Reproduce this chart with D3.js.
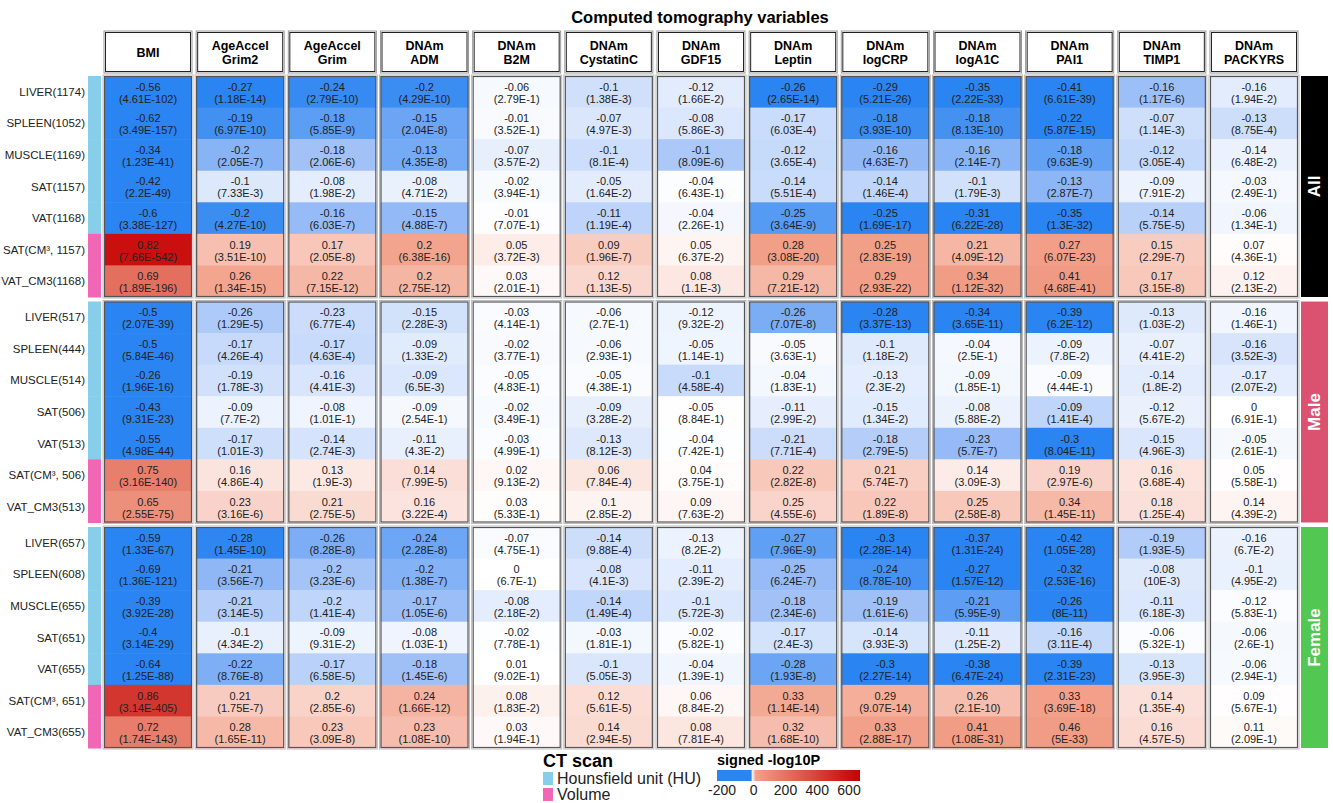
<!DOCTYPE html>
<html>
<head>
<meta charset="utf-8">
<script src="https://cdn.jsdelivr.net/npm/d3@7"></script>
<style>
  body { margin: 0; background: #fff; }
  svg { display: block; font-family: "Liberation Sans", Arial, sans-serif; }
</style>
</head>
<body>
<div id="chart"></div>
<script>
// column headers (two lines split on \n)
const columns = ["BMI", "AgeAccel\nGrim2", "AgeAccel\nGrim", "DNAm\nADM", "DNAm\nB2M", "DNAm\nCystatinC",
  "DNAm\nGDF15", "DNAm\nLeptin", "DNAm\nlogCRP", "DNAm\nlogA1C", "DNAm\nPAI1", "DNAm\nTIMP1", "DNAm\nPACKYRS"];

const sections = ["All", "Male", "Female"];
const sectionColors = ["#000000", "#DA5270", "#52C752"];

const scanType = ["HU", "HU", "HU", "HU", "HU", "Volume", "Volume"];
const scanColors = { HU: "#87CEEB", Volume: "#F266B6" };

const rowsAll = ["LIVER(1174)", "SPLEEN(1052)", "MUSCLE(1169)", "SAT(1157)", "VAT(1168)", "SAT(CM³, 1157)", "VAT_CM3(1168)"];
const rowsMale = ["LIVER(517)", "SPLEEN(444)", "MUSCLE(514)", "SAT(506)", "VAT(513)", "SAT(CM³, 506)", "VAT_CM3(513)"];
const rowsFemale = ["LIVER(657)", "SPLEEN(608)", "MUSCLE(655)", "SAT(651)", "VAT(655)", "SAT(CM³, 651)", "VAT_CM3(655)"];

const corrAll = [
  [-0.56, -0.27, -0.24, -0.2, -0.06, -0.1, -0.12, -0.26, -0.29, -0.35, -0.41, -0.16, -0.16],
  [-0.62, -0.19, -0.18, -0.15, -0.01, -0.07, -0.08, -0.17, -0.18, -0.18, -0.22, -0.07, -0.13],
  [-0.34, -0.2, -0.18, -0.13, -0.07, -0.1, -0.1, -0.12, -0.16, -0.16, -0.18, -0.12, -0.14],
  [-0.42, -0.1, -0.08, -0.08, -0.02, -0.05, -0.04, -0.14, -0.14, -0.1, -0.13, -0.09, -0.03],
  [-0.6, -0.2, -0.16, -0.15, -0.01, -0.11, -0.04, -0.25, -0.25, -0.31, -0.35, -0.14, -0.06],
  [0.82, 0.19, 0.17, 0.2, 0.05, 0.09, 0.05, 0.28, 0.25, 0.21, 0.27, 0.15, 0.07],
  [0.69, 0.26, 0.22, 0.2, 0.03, 0.12, 0.08, 0.29, 0.29, 0.34, 0.41, 0.17, 0.12]
];
const pAll = [
  ["4.61E-102", "1.18E-14", "2.79E-10", "4.29E-10", "2.79E-1", "1.38E-3", "1.66E-2", "2.65E-14", "5.21E-26", "2.22E-33", "6.61E-39", "1.17E-6", "1.94E-2"],
  ["3.49E-157", "6.97E-10", "5.85E-9", "2.04E-8", "3.52E-1", "4.97E-3", "5.86E-3", "6.03E-4", "3.93E-10", "8.13E-10", "5.87E-15", "1.14E-3", "8.75E-4"],
  ["1.23E-41", "2.05E-7", "2.06E-6", "4.35E-8", "3.57E-2", "8.1E-4", "8.09E-6", "3.65E-4", "4.63E-7", "2.14E-7", "9.63E-9", "3.05E-4", "6.48E-2"],
  ["2.2E-49", "7.33E-3", "1.98E-2", "4.71E-2", "3.94E-1", "1.64E-2", "6.43E-1", "5.51E-4", "1.46E-4", "1.79E-3", "2.87E-7", "7.91E-2", "2.49E-1"],
  ["3.38E-127", "4.27E-10", "6.03E-7", "4.88E-7", "7.07E-1", "1.19E-4", "2.26E-1", "3.64E-9", "1.69E-17", "6.22E-28", "1.3E-32", "5.75E-5", "1.34E-1"],
  ["7.66E-542", "3.51E-10", "2.05E-8", "6.38E-16", "3.72E-3", "1.96E-7", "6.37E-2", "3.08E-20", "2.83E-19", "4.09E-12", "6.07E-23", "2.29E-7", "4.36E-1"],
  ["1.89E-196", "1.34E-15", "7.15E-12", "2.75E-12", "2.01E-1", "1.13E-5", "1.1E-3", "7.21E-12", "2.93E-22", "1.12E-32", "4.68E-41", "3.15E-8", "2.13E-2"]
];

const corrMale = [
  [-0.5, -0.26, -0.23, -0.15, -0.03, -0.06, -0.12, -0.26, -0.28, -0.34, -0.39, -0.13, -0.16],
  [-0.5, -0.17, -0.17, -0.09, -0.02, -0.06, -0.05, -0.05, -0.1, -0.04, -0.09, -0.07, -0.16],
  [-0.26, -0.19, -0.16, -0.09, -0.05, -0.05, -0.1, -0.04, -0.13, -0.09, -0.09, -0.14, -0.17],
  [-0.43, -0.09, -0.08, -0.09, -0.02, -0.09, -0.05, -0.11, -0.15, -0.08, -0.09, -0.12, 0],
  [-0.55, -0.17, -0.14, -0.11, -0.03, -0.13, -0.04, -0.21, -0.18, -0.23, -0.3, -0.15, -0.05],
  [0.75, 0.16, 0.13, 0.14, 0.02, 0.06, 0.04, 0.22, 0.21, 0.14, 0.19, 0.16, 0.05],
  [0.65, 0.23, 0.21, 0.16, 0.03, 0.1, 0.09, 0.25, 0.22, 0.25, 0.34, 0.18, 0.14]
];
const pMale = [
  ["2.07E-39", "1.29E-5", "6.77E-4", "2.28E-3", "4.14E-1", "2.7E-1", "9.32E-2", "7.07E-8", "3.37E-13", "3.65E-11", "6.2E-12", "1.03E-2", "1.46E-1"],
  ["5.84E-46", "4.26E-4", "4.63E-4", "1.33E-2", "3.77E-1", "2.93E-1", "1.14E-1", "3.63E-1", "1.18E-2", "2.5E-1", "7.8E-2", "4.41E-2", "3.52E-3"],
  ["1.96E-16", "1.78E-3", "4.41E-3", "6.5E-3", "4.83E-1", "4.38E-1", "4.58E-4", "1.83E-1", "2.3E-2", "1.85E-1", "4.44E-1", "1.8E-2", "2.07E-2"],
  ["9.31E-23", "7.7E-2", "1.01E-1", "2.54E-1", "3.49E-1", "3.28E-2", "8.84E-1", "2.99E-2", "1.34E-2", "5.88E-2", "1.41E-4", "5.67E-2", "6.91E-1"],
  ["4.98E-44", "1.01E-3", "2.74E-3", "4.3E-2", "4.99E-1", "8.12E-3", "7.42E-1", "7.71E-4", "2.79E-5", "5.7E-7", "8.04E-11", "4.96E-3", "2.61E-1"],
  ["3.16E-140", "4.86E-4", "1.9E-3", "7.99E-5", "9.13E-2", "7.84E-4", "3.75E-1", "2.82E-8", "5.74E-7", "3.09E-3", "2.97E-6", "3.68E-4", "5.58E-1"],
  ["2.55E-75", "3.16E-6", "2.75E-5", "3.22E-4", "5.33E-1", "2.85E-2", "7.63E-2", "4.55E-6", "1.89E-8", "2.58E-8", "1.45E-11", "1.25E-4", "4.39E-2"]
];

const corrFemale = [
  [-0.59, -0.28, -0.26, -0.24, -0.07, -0.14, -0.13, -0.27, -0.3, -0.37, -0.42, -0.19, -0.16],
  [-0.69, -0.21, -0.2, -0.2, 0, -0.08, -0.11, -0.25, -0.24, -0.27, -0.32, -0.08, -0.1],
  [-0.39, -0.21, -0.2, -0.17, -0.08, -0.14, -0.1, -0.18, -0.19, -0.21, -0.26, -0.11, -0.12],
  [-0.4, -0.1, -0.09, -0.08, -0.02, -0.03, -0.02, -0.17, -0.14, -0.11, -0.16, -0.06, -0.06],
  [-0.64, -0.22, -0.17, -0.18, 0.01, -0.1, -0.04, -0.28, -0.3, -0.38, -0.39, -0.13, -0.06],
  [0.86, 0.21, 0.2, 0.24, 0.08, 0.12, 0.06, 0.33, 0.29, 0.26, 0.33, 0.14, 0.09],
  [0.72, 0.28, 0.23, 0.23, 0.03, 0.14, 0.08, 0.32, 0.33, 0.41, 0.46, 0.16, 0.11]
];
const pFemale = [
  ["1.33E-67", "1.45E-10", "8.28E-8", "2.28E-8", "4.75E-1", "9.88E-4", "8.2E-2", "7.96E-9", "2.28E-14", "1.31E-24", "1.05E-28", "1.93E-5", "6.7E-2"],
  ["1.36E-121", "3.56E-7", "3.23E-6", "1.38E-7", "6.7E-1", "4.1E-3", "2.39E-2", "6.24E-7", "8.78E-10", "1.57E-12", "2.53E-16", "10E-3", "4.95E-2"],
  ["3.92E-28", "3.14E-5", "1.41E-4", "1.05E-6", "2.18E-2", "1.49E-4", "5.72E-3", "2.34E-6", "1.61E-6", "5.95E-9", "8E-11", "6.18E-3", "5.83E-1"],
  ["3.14E-29", "4.34E-2", "9.31E-2", "1.03E-1", "7.78E-1", "1.81E-1", "5.82E-1", "2.4E-3", "3.93E-3", "1.25E-2", "3.11E-4", "5.32E-1", "2.6E-1"],
  ["1.25E-88", "8.76E-8", "6.58E-5", "1.45E-6", "9.02E-1", "5.05E-3", "1.39E-1", "1.93E-8", "2.27E-14", "6.47E-24", "2.31E-23", "3.95E-3", "2.94E-1"],
  ["3.14E-405", "1.75E-7", "2.85E-6", "1.66E-12", "1.83E-2", "5.61E-5", "8.84E-2", "1.14E-14", "9.07E-14", "2.1E-10", "3.69E-18", "1.35E-4", "5.67E-1"],
  ["1.74E-143", "1.65E-11", "3.09E-8", "1.08E-10", "1.94E-1", "2.94E-5", "7.81E-4", "1.68E-10", "2.88E-17", "1.08E-31", "5E-33", "4.57E-5", "2.09E-1"]
];

const legendTicks = [-200, 0, 200, 400, 600];

const rowLabels = [rowsAll, rowsMale, rowsFemale];
const corrs = [corrAll, corrMale, corrFemale];
const pvals = [pAll, pMale, pFemale];

// signed -log10P ; "7.66E-542" underflows in JS so read the exponent directly
function negLog10(s) {
  const [m, e] = s.split("E");
  return -(Math.log10(+m) + (+e));
}

const width = 1333, height = 803;
const svg = d3.select("#chart").append("svg")
  .attr("width", width).attr("height", height)
  .style("background", "white");

const x = d3.scaleBand().domain(d3.range(columns.length)).range([104, 1298]).paddingInner(0.045);
const ySec = d3.scaleBand().domain(d3.range(sections.length)).range([76, 748]).paddingInner(0.02);
const yRow = d3.scaleBand().domain(d3.range(7)).range([0, ySec.bandwidth()]);

const color = d3.scaleLinear()
  .domain([-10, -6, 0, 6, 16, 600])
  .range(["#2A84F1", "#9CBEF7", "#FFFFFF", "#F9CFC4", "#F2A089", "#C40000"])
  .clamp(true);

// title
svg.append("text")
  .attr("x", 700).attr("y", 23)
  .attr("text-anchor", "middle")
  .style("font-weight", "bold").style("font-size", "16.5px")
  .text("Computed tomography variables");

// header boxes
const head = svg.append("g").selectAll("g")
  .data(columns).join("g")
  .attr("transform", (d, i) => `translate(${x(i)},31)`);
head.append("rect")
  .attr("width", x.bandwidth()).attr("height", 42)
  .attr("fill", "white").attr("stroke", "#999").attr("stroke-width", 1);
head.append("rect")
  .attr("x", 1.5).attr("y", 1.5)
  .attr("width", x.bandwidth() - 3).attr("height", 39)
  .attr("fill", "none").attr("stroke", "#222").attr("stroke-width", 1);
head.append("text")
  .attr("text-anchor", "middle")
  .style("font-weight", "bold").style("font-size", "12.5px")
  .selectAll("tspan")
  .data(d => d.split("\n").map((t, k, arr) => ({ t, k, n: arr.length })))
  .join("tspan")
  .attr("x", x.bandwidth() / 2)
  .attr("y", d => 21 + 4.5 + (d.k - (d.n - 1) / 2) * 14)
  .text(d => d.t);

sections.forEach((sec, s) => {
  const g = svg.append("g").attr("transform", `translate(0,${ySec(s)})`);

  // row labels
  g.append("g").selectAll("text")
    .data(rowLabels[s]).join("text")
    .attr("x", 85)
    .attr("y", (d, r) => yRow(r) + yRow.bandwidth() / 2)
    .attr("dy", "0.35em")
    .attr("text-anchor", "end")
    .style("font-size", "11.5px").style("fill", "#222")
    .text(d => d);

  // CT scan annotation strip
  g.append("g").selectAll("rect")
    .data(scanType).join("rect")
    .attr("x", 88).attr("width", 13)
    .attr("y", (d, r) => yRow(r))
    .attr("height", yRow.bandwidth() + 0.5)
    .attr("fill", d => scanColors[d]);

  // cells
  const cells = [];
  corrs[s].forEach((row, r) => row.forEach((v, c) => {
    const lp = negLog10(pvals[s][r][c]);
    cells.push({ r, c, v, p: pvals[s][r][c], val: v === 0 ? 0 : Math.sign(v) * lp });
  }));

  g.append("g").selectAll("rect")
    .data(cells).join("rect")
    .attr("x", d => x(d.c))
    .attr("y", d => yRow(d.r))
    .attr("width", x.bandwidth())
    .attr("height", yRow.bandwidth() + 0.5)
    .attr("fill", d => color(d.val));

  const txt = g.append("g").selectAll("text")
    .data(cells).join("text")
    .attr("text-anchor", "middle")
    .style("font-size", "11px").style("fill", "#222");
  txt.append("tspan")
    .attr("x", d => x(d.c) + x.bandwidth() / 2)
    .attr("y", d => yRow(d.r) + yRow.bandwidth() / 2 - 1)
    .text(d => d.v);
  txt.append("tspan")
    .attr("x", d => x(d.c) + x.bandwidth() / 2)
    .attr("y", d => yRow(d.r) + yRow.bandwidth() / 2 + 11)
    .text(d => `(${d.p})`);

  // block borders per column
  g.append("g").selectAll("rect")
    .data(columns).join("rect")
    .attr("x", (d, i) => x(i) + 0.5).attr("y", 0.5)
    .attr("width", x.bandwidth() - 1).attr("height", ySec.bandwidth() - 1)
    .attr("fill", "none").attr("stroke", "#555").attr("stroke-width", 1.2);
  g.append("g").selectAll("rect")
    .data(columns).join("rect")
    .attr("x", (d, i) => x(i) - 1).attr("y", -1)
    .attr("width", x.bandwidth() + 2).attr("height", ySec.bandwidth() + 2)
    .attr("fill", "none").attr("stroke", "#bbb").attr("stroke-width", 1);

  // section label strip on the right
  g.append("rect")
    .attr("x", 1301).attr("y", 0)
    .attr("width", 27).attr("height", ySec.bandwidth())
    .attr("fill", sectionColors[s]);
  g.append("text")
    .attr("transform", `translate(1320,${ySec.bandwidth() / 2}) rotate(-90)`)
    .attr("text-anchor", "middle")
    .style("font-weight", "bold").style("font-size", "17px").style("fill", "white")
    .text(sec);
});

// legend: CT scan
const leg = svg.append("g");
leg.append("text").attr("x", 543).attr("y", 767)
  .style("font-weight", "bold").style("font-size", "18px")
  .text("CT scan");
const legItems = [["HU", "Hounsfield unit (HU)"], ["Volume", "Volume"]];
leg.selectAll("rect.sw").data(legItems).join("rect")
  .attr("class", "sw")
  .attr("x", 543).attr("y", (d, i) => 772 + i * 16)
  .attr("width", 10).attr("height", 13)
  .attr("fill", d => scanColors[d[0]]);
leg.selectAll("text.lb").data(legItems).join("text")
  .attr("class", "lb")
  .attr("x", 557).attr("y", (d, i) => 784 + i * 16)
  .style("font-size", "16px").style("fill", "#222")
  .text(d => d[1]);

// legend: colour bar
const lx = d3.scaleLinear().domain([-200, 600]).range([717, 860]);
const tx = d3.scaleLinear().domain([-200, 600]).range([722, 849]);
const grad = svg.append("defs").append("linearGradient").attr("id", "cbar");
const stops = d3.range(-200, 601, 4);
grad.selectAll("stop").data(stops).join("stop")
  .attr("offset", d => (d + 200) / 800)
  .attr("stop-color", d => color(d));
svg.append("text").attr("x", 717).attr("y", 765)
  .style("font-weight", "bold").style("font-size", "14.5px")
  .text("signed -log10P");
svg.append("rect")
  .attr("x", lx(-200)).attr("y", 770)
  .attr("width", lx(600) - lx(-200)).attr("height", 11)
  .attr("fill", "url(#cbar)");
svg.append("g").selectAll("text")
  .data(legendTicks).join("text")
  .attr("x", d => tx(d))
  .attr("y", 795)
  .attr("text-anchor", "middle")
  .style("font-size", "14px").style("fill", "#222")
  .text(d => d);
</script>
</body>
</html>
